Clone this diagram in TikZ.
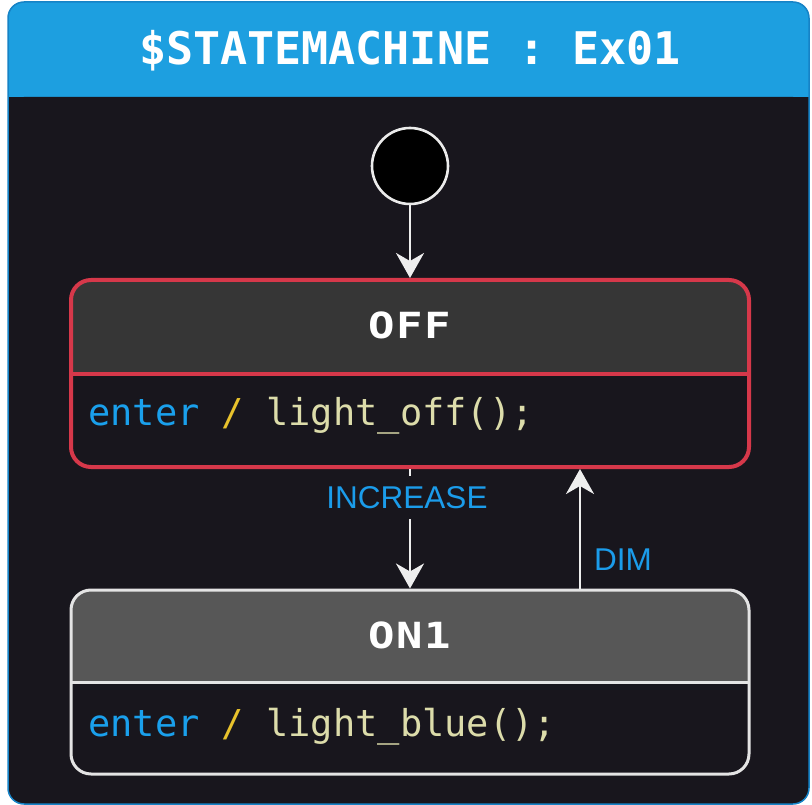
\documentclass[tikz,border=0pt]{standalone}
\usepackage{fontspec}
\setmonofont{DejaVu Sans Mono}
\setsansfont{Liberation Sans}
\usetikzlibrary{arrows.meta}

\definecolor{bodybg}{HTML}{18161D}
\definecolor{titleblue}{HTML}{1D9FE0}
\definecolor{frameblue}{HTML}{1683C6}
\definecolor{offhead}{HTML}{363636}
\definecolor{onhead}{HTML}{575757}
\definecolor{offred}{HTML}{D6384A}
\definecolor{onborder}{HTML}{E4E4E4}
\definecolor{arrowwhite}{HTML}{EEEEEE}
\definecolor{lblblue}{HTML}{1B9CEA}
\definecolor{kwblue}{HTML}{1AA0EC}
\definecolor{slashyel}{HTML}{E8C22C}
\definecolor{fnbeige}{HTML}{DCDCAA}

\tikzset{
  arr/.style={draw=arrowwhite, line width=2.6pt,
    -{Stealth[length=25pt,width=28pt,inset=8pt]}},
  statebox/.style={rounded corners=20pt, line width=#1, inner sep=0pt,
    minimum width=678pt},
  statename/.style={anchor=base, text=white, inner sep=0pt,
    font=\ttfamily\bfseries\fontsize{36}{43}\selectfont\addfontfeature{FakeStretch=1.22}},
  actiontext/.style={anchor=base west, inner sep=0pt,
    font=\ttfamily\fontsize{37}{45}\selectfont},
  evlabel/.style={text=lblblue, font=\sffamily\fontsize{31.5}{37}\selectfont}
}

\begin{document}
\begin{tikzpicture}[x=1pt,y=-1pt]
\useasboundingbox (0,0) rectangle (812,805);

% outer frame: blue title band over a dark body
\fill[titleblue, rounded corners=16pt] (8,2) rectangle (809,804);
\fill[bodybg] (8,97) rectangle (809,760);
\fill[bodybg, rounded corners=16pt] (8,97) rectangle (809,804);
\draw[frameblue, line width=1.5pt, rounded corners=16pt] (8,2) rectangle (809,804);
\node[anchor=base, text=white, inner sep=0pt,
  font=\ttfamily\bfseries\fontsize{45}{54}\selectfont] (title) at (410,65)
  {\$STATEMACHINE : Ex01};

% initial pseudo-state
\node[circle, draw=white!92!black, fill=black, line width=2.6pt,
  minimum size=76pt, inner sep=0pt] (init) at (410,166) {};

% state OFF
\fill[offhead, rounded corners=20pt] (71,280) rectangle (749,467);
\fill[bodybg] (71,373) rectangle (749,440);
\fill[bodybg, rounded corners=20pt] (71,373) rectangle (749,467);
\draw[offred, line width=4pt] (71,373.5) -- (749,373.5);
\node[statebox=4pt, draw=offred, minimum height=187pt] (off) at (410,373.5) {};
\node[statename] (offName) at (410,338) {O\kern1.5pt F\kern1.5pt F};
\node[actiontext] (offAct) at (88,425)
  {\textcolor{kwblue}{enter} \textcolor{slashyel}{/} \textcolor{fnbeige}{light\_off();}};

% state ON1
\fill[onhead, rounded corners=20pt] (71,590) rectangle (749,774);
\fill[bodybg] (71,682) rectangle (749,740);
\fill[bodybg, rounded corners=20pt] (71,682) rectangle (749,774);
\draw[onborder, line width=3pt] (71,682) -- (749,682);
\node[statebox=3pt, draw=onborder, minimum height=184pt] (on1) at (410,682) {};
\node[statename] (onName) at (410,648) {O\kern1.5pt N\kern1.5pt 1};
\node[actiontext] (onAct) at (88,736)
  {\textcolor{kwblue}{enter} \textcolor{slashyel}{/} \textcolor{fnbeige}{light\_blue();}};

% transitions
\draw[arr] (init.south) -- (off.north);
\draw[arr] (off.south) -- (on1.north);
\node[evlabel, anchor=base, fill=bodybg, inner xsep=4pt, inner ysep=10.5pt]
  (incLbl) at (407,508) {INCREASE};
\draw[arr] ([xshift=170pt]on1.north) -- ([xshift=170pt]off.south);
\node[evlabel, anchor=base west, inner sep=0pt] (dimLbl) at (594,570) {DIM};
\end{tikzpicture}
\end{document}
